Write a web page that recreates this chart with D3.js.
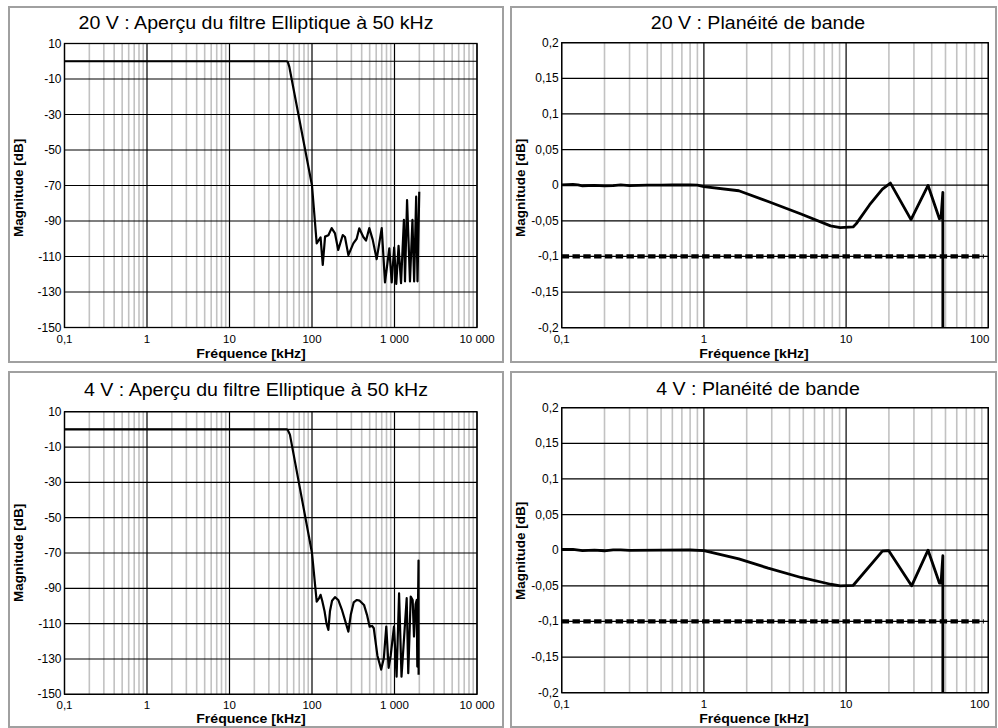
<!DOCTYPE html>
<html><head><meta charset="utf-8">
<script src="https://cdn.jsdelivr.net/npm/d3@7"></script>
<style>
body{margin:0;background:#fff}
svg{display:block}
text{font-family:"Liberation Sans",Arial,Helvetica,sans-serif;fill:#000}
</style>
</head><body>
<svg id="chart" width="998" height="728"></svg>
<script>
// ---------- DATA ----------
// 20 V stop-band overview (kHz, dB)
const freq20 = [0.1,49.5,51,53,100,114,127,135,144,158,173,190,208,236,251,276,317,348,374,419,452,495,544,608,700,767,865,925,990,1050,1120,1200,1300,1340,1420,1540,1650,1730,1830,1900,1996];
const mag20  = [0,0,-0.5,-3,-70,-102.6,-99.2,-114.8,-98.8,-98,-94,-97,-106.3,-97.9,-99,-109.2,-102.6,-100,-94.1,-99,-101,-94,-100.5,-111.5,-94,-124.6,-105.4,-124.6,-105,-125.5,-104,-125,-89.4,-124,-78.2,-124,-89.4,-124,-76.3,-124,-73.5];
// 4 V stop-band overview (kHz, dB)
const freq4 = [0.1,49.5,51,54,100,114,122,127,133,142,150,158,165,175,190,208,230,251,276,295,320,350,378,427,464,500,535,561,620,689,742,795,849,900,985,1060,1136,1216,1405,1468,1573,1660,1723,1800,1860,1890,1955,1960];
const mag4  = [0,0,-0.5,-3,-70,-97.5,-95.5,-93.7,-97,-103,-110,-113.5,-103,-97,-95,-96.6,-102,-108,-114.5,-105,-98,-96.6,-97,-99.4,-105,-111.7,-111.3,-112.6,-128,-136,-129.6,-111.7,-135,-128,-111.7,-140,-92.8,-140,-95.6,-138,-94.7,-96.6,-117.3,-99,-96.6,-134.3,-74.3,-139];
// 20 V pass-band flatness (kHz, dB)
const flatFreq20 = [0.1,0.12,0.13,0.14,0.17,0.2,0.23,0.26,0.3,0.4,0.5,0.6,0.8,0.9,1,1.76,2.83,4.82,7.77,9.1,11.2,11.8,14.6,18,20.5,28.6,37.7,45.3,46.5,47.9,47.9];
const flat20     = [0.0005,0.001,0.0005,-0.0008,-0.0003,-0.001,-0.0005,0.0005,-0.0005,0,0,0.0003,0.0003,0,-0.002,-0.0078,-0.0229,-0.0404,-0.0571,-0.0596,-0.0586,-0.0539,-0.0277,-0.0056,0.003,-0.0483,-0.0004,-0.047,-0.046,-0.01,-0.25];
// 4 V pass-band flatness (kHz, dB)
const flatFreq4 = [0.1,0.12,0.14,0.17,0.2,0.23,0.26,0.3,0.5,0.8,1,1.76,2.83,4.82,7.77,9.1,11.2,18,19.9,28.9,37.7,45.3,46.5,47.9,47.9];
const flat4     = [0.001,0.0012,-0.0005,0,-0.0008,0.0005,0.0005,-0.0003,0,0.0003,-0.0005,-0.0121,-0.0252,-0.0383,-0.0478,-0.05,-0.0495,-0.0013,-0.0005,-0.05,0,-0.046,-0.046,-0.0078,-0.25];
// limit line
const limitLevel = -0.1;
const limitRange = [0.1, 93];

// ticks
const overviewXTicks  = [0.1,1,10,100,1000,10000];
const overviewXLabels = ["0,1","1","10","100","1 000","10 000"];
const overviewYTicks  = [10,0,-10,-30,-50,-70,-90,-110,-130,-150];
const overviewYLabels = ["10","","-10","-30","-50","-70","-90","-110","-130","-150"];
const flatXTicks  = [0.1,1,10,100];
const flatXLabels = ["0,1","1","10","100"];
const flatYTicks  = [0.2,0.15,0.1,0.05,0,-0.05,-0.1,-0.15,-0.2];
const flatYLabels = ["0,2","0,15","0,1","0,05","0","-0,05","-0,1","-0,15","-0,2"];

const titles = ["20 V : Aperçu du filtre Elliptique à 50 kHz","20 V : Planéité de bande",
                "4 V : Aperçu du filtre Elliptique à 50 kHz","4 V : Planéité de bande"];
const xTitle = "Fréquence [kHz]";
const yTitle = "Magnitude [dB]";

// ---------- LAYOUT ----------
const panels = [
  {frame:[9,7,494,355], plot:[64.5,43.5,477,327.5], tx:256, ty:29, xlx:251, xly:357.5, ylx:23, yly:188,
   title:titles[0], xd:[0.1,10000], yd:[-150,10], xs:freq20, ys:mag20, xt:overviewXTicks, xl:overviewXLabels, yt:overviewYTicks, yl:overviewYLabels, lw:2.2, limit:false},
  {frame:[511,7,485,355], plot:[561.7,42.7,988.3,327.7], tx:758, ty:29, xlx:754, xly:357.5, ylx:525, yly:188,
   title:titles[1], xd:[0.1,100], yd:[-0.2,0.2], xs:flatFreq20, ys:flat20, xt:flatXTicks, xl:flatXLabels, yt:flatYTicks, yl:flatYLabels, lw:2.8, limit:true},
  {frame:[9,372,494,355], plot:[64.5,411.7,477,694.3], tx:256, ty:395.5, xlx:251, xly:722.5, ylx:23, yly:553,
   title:titles[2], xd:[0.1,10000], yd:[-150,10], xs:freq4, ys:mag4, xt:overviewXTicks, xl:overviewXLabels, yt:overviewYTicks, yl:overviewYLabels, lw:2.2, limit:false},
  {frame:[511,372,485,355], plot:[561.7,407.7,988.3,692.7], tx:758, ty:395, xlx:754, xly:722.5, ylx:525, yly:551,
   title:titles[3], xd:[0.1,100], yd:[-0.2,0.2], xs:flatFreq4, ys:flat4, xt:flatXTicks, xl:flatXLabels, yt:flatYTicks, yl:flatYLabels, lw:2.8, limit:true}
];

const svg = d3.select("#chart");
svg.append("rect").attr("width",998).attr("height",728).attr("fill","#fff");

panels.forEach((p,i)=>{
  const [fx,fy,fw,fh] = p.frame;
  const [x0,y0,x1,y1] = p.plot;
  svg.append("rect").attr("x",fx).attr("y",fy).attr("width",fw).attr("height",fh)
     .attr("fill","#fff").attr("stroke","#a0a0a0").attr("stroke-width",2);

  const x = d3.scaleLog().domain(p.xd).range([x0,x1]);
  const y = d3.scaleLinear().domain(p.yd).range([y1,y0]);
  const g = svg.append("g");

  // minor vertical grid
  const allT = x.ticks();
  const isDec = v => Math.abs(Math.log10(v) - Math.round(Math.log10(v))) < 1e-9;
  g.selectAll(".minor").data(allT.filter(v=>!isDec(v))).join("line")
    .attr("x1",d=>x(d)).attr("x2",d=>x(d)).attr("y1",y0).attr("y2",y1)
    .attr("stroke","#c2c2c2").attr("stroke-width",1.6);
  // major vertical grid
  g.selectAll(".major").data(p.xt).join("line")
    .attr("x1",d=>x(d)).attr("x2",d=>x(d)).attr("y1",y0).attr("y2",y1)
    .attr("stroke","#000").attr("stroke-width",1.2);
  // horizontal grid
  g.selectAll(".hgrid").data(p.yt).join("line")
    .attr("x1",x0).attr("x2",x1).attr("y1",d=>y(d)).attr("y2",d=>y(d))
    .attr("stroke","#000").attr("stroke-width",1.2);
  // plot frame
  g.append("rect").attr("x",x0).attr("y",y0).attr("width",x1-x0).attr("height",y1-y0)
    .attr("fill","none").attr("stroke","#000").attr("stroke-width",1.3);

  // clip
  const cid = "clip"+i;
  svg.append("clipPath").attr("id",cid).append("rect")
    .attr("x",x0).attr("y",y0).attr("width",x1-x0).attr("height",y1-y0);

  // limit line
  if (p.limit){
    g.append("line").attr("x1",x(limitRange[0])).attr("x2",x(limitRange[1]))
      .attr("y1",y(limitLevel)).attr("y2",y(limitLevel))
      .attr("stroke","#000").attr("stroke-width",4.2).attr("stroke-dasharray","7.4,3.4");
  }

  // curve
  const pts = p.xs.map((v,k)=>[v,p.ys[k]]);
  const line = d3.line().x(d=>x(d[0])).y(d=>y(d[1]));
  g.append("path").datum(pts).attr("d",line).attr("fill","none")
    .attr("stroke","#000").attr("stroke-width",p.lw).attr("stroke-linejoin","round")
    .attr("clip-path",`url(#${cid})`);

  // y tick labels
  g.selectAll(".yl").data(p.yt).join("text")
    .attr("x",x0-3).attr("y",d=>y(d)+4).attr("text-anchor","end")
    .attr("font-size",12).text((d,k)=>p.yl[k]);
  // x tick labels
  g.selectAll(".xl").data(p.xt).join("text")
    .attr("x",(d,k)=> (p.limit && k===p.xt.length-1) ? x(d)+1 : x(d))
    .attr("y",y1+15)
    .attr("text-anchor",(d,k)=> (p.limit && k===p.xt.length-1) ? "end" : "middle")
    .attr("font-size",11.5).text((d,k)=>p.xl[k]);

  // titles
  svg.append("text").attr("transform",`translate(${p.tx},${p.ty}) scale(1.12,1)`)
    .attr("text-anchor","middle").attr("font-size",17.5).text(p.title);
  svg.append("text").attr("transform",`translate(${p.xlx},${p.xly}) scale(1.06,1)`)
    .attr("text-anchor","middle").attr("font-size",13.3).attr("font-weight","bold").text(xTitle);
  svg.append("text").attr("transform",`translate(${p.ylx},${p.yly}) rotate(-90)`)
    .attr("text-anchor","middle").attr("font-size",13.5).attr("font-weight","bold").text(yTitle);
});
</script>
</body></html>
